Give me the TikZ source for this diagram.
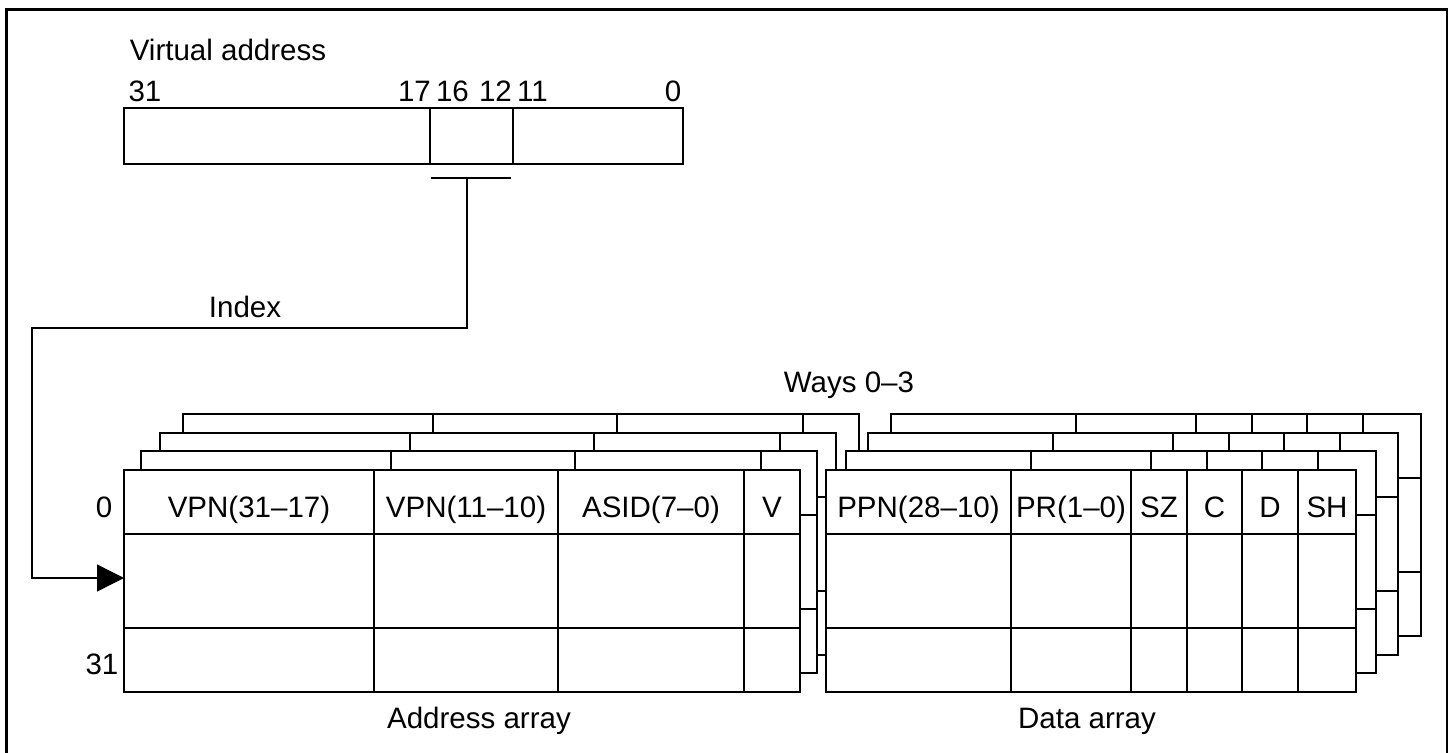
\documentclass[tikz,border=0pt]{standalone}
\usepackage{fontspec}
\setmainfont{Liberation Sans}
\usetikzlibrary{arrows.meta}

\begin{document}
\begin{tikzpicture}[x=0.02cm, y=-0.02cm, line join=miter,
    every node/.style={font=\fontsize{16.8}{20}\selectfont, inner sep=0pt, anchor=base},
    grid/.style={line width=0.8pt},
    layer/.style={fill=white, line width=0.8pt}]

\useasboundingbox (0,0) rectangle (1448,753);

% Cornice
\draw[line width=1.7pt] (6.5,753) -- (6.5,9.5) -- (1448,9.5);
\draw[line width=0.6pt] (1447,9.5) -- (1447,753);

% Indirizzo virtuale
\node (va) at (228,61) {Virtual address};
\node (b31) at (145,102) {31};
\node (b17) at (414.5,102) {17};
\node (b16) at (452.5,102) {16};
\node (b12) at (495.5,102) {12};
\node (b11) at (532.5,102) {11};
\node (b0) at (673,102) {0};
\draw[grid] (124,108) rectangle (683,164);
\draw[grid] (430,108) -- (430,164);
\draw[grid] (513,108) -- (513,164);

% Barra indice
\coordinate (barL) at (431,178);
\coordinate (barR) at (511,178);
\coordinate (idx) at (467,178);
\coordinate (bend) at (32,328);
\coordinate (row) at (124,578);
\draw[grid] (barL) -- (barR);
\draw[grid, -{Triangle[length=5.4mm, width=5.4mm]}] (idx) |- (bend) |- (row);
\node (index) at (245,318) {Index};

% Vie
\node (ways) at (849,393) {Ways 0--3};

% Address array (dal fondo)
\foreach \dx/\dy in {59/56, 36/37, 17/19, 0/0} {
  \begin{scope}[shift={(\dx,-\dy)}]
    \filldraw[layer] (124,470) rectangle (800,692);
    \foreach \c in {374,558,744} \draw[grid] (\c,470) -- (\c,692);
    \foreach \r in {534,628} \draw[grid] (124,\r) -- (800,\r);
  \end{scope}
}

% Data array (dal fondo)
\foreach \dx/\dy in {65/56, 42/37, 20/19, 0/0} {
  \begin{scope}[shift={(\dx,-\dy)}]
    \filldraw[layer] (826,470) rectangle (1356,692);
    \foreach \c in {1011,1131,1187,1242,1298} \draw[grid] (\c,470) -- (\c,692);
    \foreach \r in {534,628} \draw[grid] (826,\r) -- (1356,\r);
  \end{scope}
}

% Intestazioni
\node (vpnh) at (249,517) {VPN(31--17)};
\node (vpnl) at (466,517) {VPN(11--10)};
\node (asid) at (651,517) {ASID(7--0)};
\node (v) at (772,517) {V};
\node (ppn) at (918.5,517) {PPN(28--10)};
\node (pr) at (1071,517) {PR(1--0)};
\node (sz) at (1159,517) {SZ};
\node (c) at (1214.5,517) {C};
\node (d) at (1270,517) {D};
\node (sh) at (1327,517) {SH};

% Etichette righe
\node (r0) at (104,517) {0};
\node (r31) at (102,674) {31};

% Etichette array
\node (aa) at (479,728) {Address array};
\node (da) at (1087,728) {Data array};

\end{tikzpicture}
\end{document}
